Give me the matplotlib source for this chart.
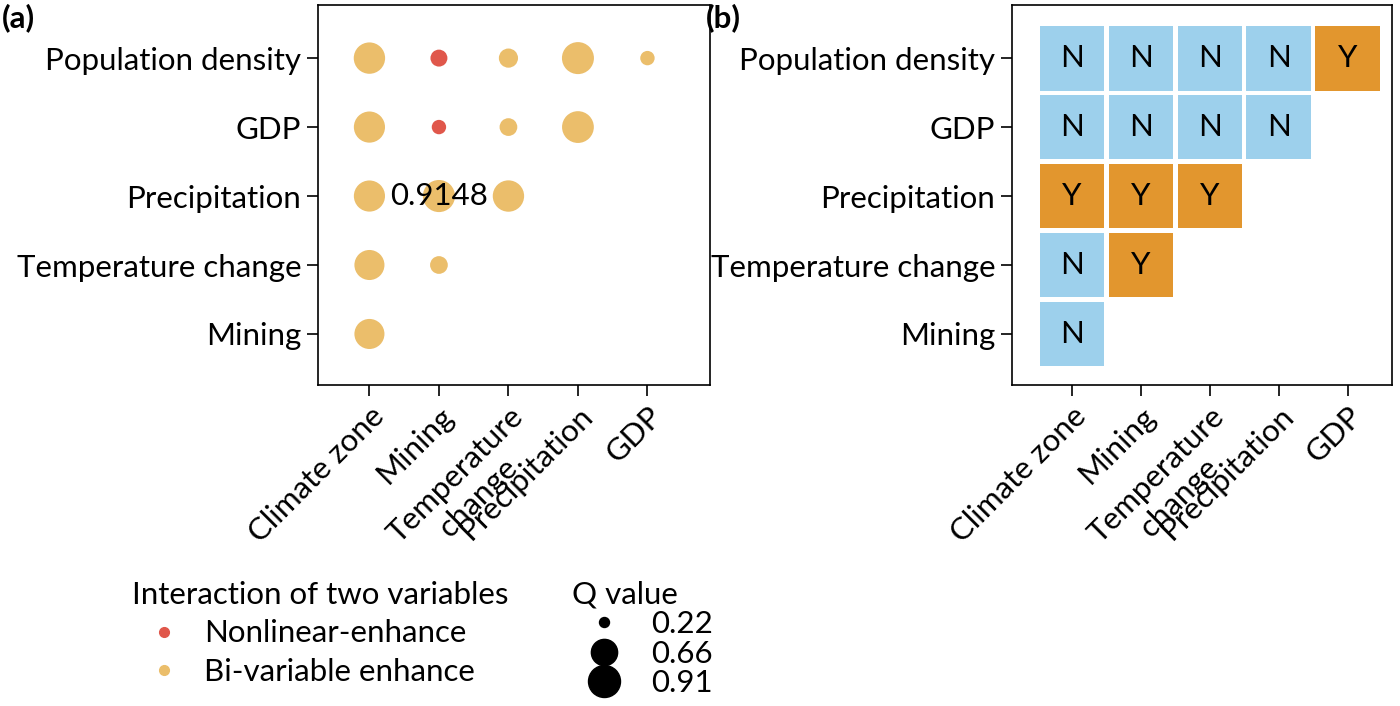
import matplotlib
matplotlib.use("Agg")
import matplotlib.pyplot as plt
from matplotlib.lines import Line2D
import numpy as np

plt.rcParams['font.family'] = ['Lato', 'DejaVu Sans']

xcats = ["Climate zone", "Mining", "Temperature\nchange", "Precipitation", "GDP"]
ycats = ["Population density", "GDP", "Precipitation", "Temperature change", "Mining"]
cells_row = [0, 0, 0, 0, 0, 1, 1, 1, 1, 2, 2, 2, 3, 3, 4]
cells_col = [0, 1, 2, 3, 4, 0, 1, 2, 3, 0, 1, 2, 0, 1, 0]
q_vals = [0.88, 0.36, 0.42, 0.91, 0.30, 0.87, 0.30, 0.38, 0.90, 0.87, 0.9148, 0.88, 0.82, 0.38, 0.82]
q_type = ["B", "N", "B", "B", "B", "B", "N", "B", "B", "B", "B", "B", "B", "B", "B"]
sig = ["N", "N", "N", "N", "Y", "N", "N", "N", "N", "Y", "Y", "Y", "N", "Y", "N"]
legend_q = [0.22, 0.66, 0.91]

col_N = "#E0574B"
col_B = "#EBBE6B"
col_no = "#9DD0EC"
col_yes = "#E2962E"
FS = 22.5

def size(q):
    d_px = np.sqrt(100 + (1024 - 100) * (q - 0.22) / (0.91 - 0.22))
    d_pt = d_px * 72 / 100
    return d_pt ** 2

fig = plt.figure(figsize=(14, 7.06), dpi=100)
W, H = 1400, 706
axa = fig.add_axes([318 / W, 1 - 385 / H, 392 / W, 380 / H])
axb = fig.add_axes([1012 / W, 1 - 385 / H, 380 / W, 380 / H])

for ax in (axa, axb):
    ax.set_xticks(range(5))
    ax.set_yticks(range(5))
    ax.set_xticklabels(xcats, rotation=45, ha='right', rotation_mode='anchor', fontsize=FS, multialignment='center')
    ax.set_yticklabels(ycats, fontsize=FS)
    ax.tick_params(length=8, width=1.2, pad=4)
    for s in ax.spines.values():
        s.set_linewidth(1.2)

axa.set_xlim(-0.74, 4.9)
axa.set_ylim(4.74, -0.77)
xs = np.array(cells_col)
ys = np.array(cells_row)
cols = [col_N if t == "N" else col_B for t in q_type]
axa.scatter(xs, ys, s=[size(q) for q in q_vals], c=cols, linewidths=0, zorder=3)
axa.text(1, 2, "0.9148", ha='center', va='center', fontsize=FS, zorder=4)

axb.set_xlim(-0.87, 4.64)
axb.set_ylim(4.74, -0.77)
for r, c, sg in zip(cells_row, cells_col, sig):
    axb.add_patch(plt.Rectangle((c - 0.47, r - 0.47), 0.94, 0.94,
                                color=col_yes if sg == "Y" else col_no, linewidth=0))
    axb.text(c, r, sg, ha='center', va='center', fontsize=FS)

fig.text(2 / W, 1 - 18 / H, "(a)", fontsize=FS, fontweight='bold', va='center')
fig.text(706 / W, 1 - 18 / H, "(b)", fontsize=FS, fontweight='bold', va='center')

h1 = [Line2D([], [], marker='o', ls='', color=col_N, markersize=7, label="Nonlinear-enhance"),
      Line2D([], [], marker='o', ls='', color=col_B, markersize=7, label="Bi-variable enhance")]
fig.legend(handles=h1, title="Interaction of two variables", loc='upper left',
           bbox_to_anchor=(120 / W, 1 - 568 / H), frameon=False, fontsize=FS,
           title_fontsize=FS, handletextpad=0.3, labelspacing=0.35, alignment='left',
           borderaxespad=0)
h2 = [Line2D([], [], marker='o', ls='', color='black', markersize=np.sqrt(size(q)), label=f"{q:.2f}")
      for q in legend_q]
fig.legend(handles=h2, title="Q value", loc='upper left',
           bbox_to_anchor=(560 / W, 1 - 568 / H), frameon=False, fontsize=FS,
           title_fontsize=FS, handletextpad=0.5, labelspacing=0.05, alignment='left',
           borderaxespad=0)

fig.savefig("out.png", dpi=100)
